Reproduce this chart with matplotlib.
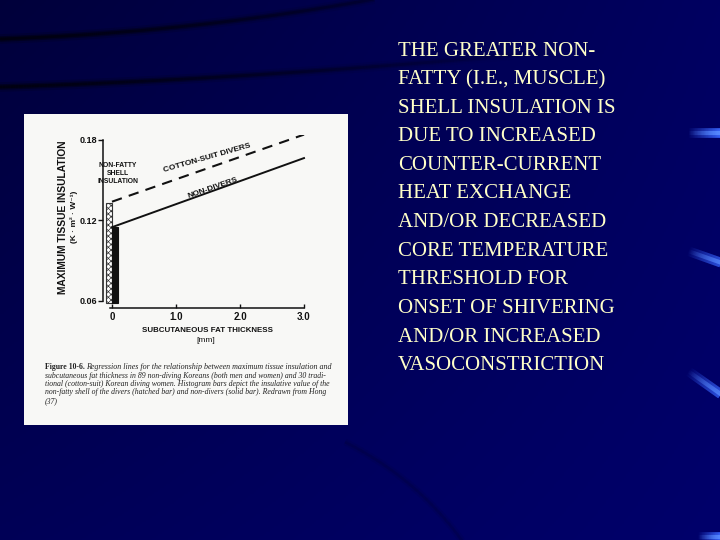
import numpy as np
import matplotlib
matplotlib.use("Agg")
import matplotlib.pyplot as plt
from matplotlib.collections import LineCollection
from matplotlib.patches import Rectangle

# ---------------- data ----------------
fat_thickness = [0.0, 3.0]                      # mm
cotton_suit_divers = [0.134, 0.184]              # K·m²·W⁻¹
non_divers = [0.115, 0.1665]
shell_labels = ["divers (hatched)", "non-divers (solid)"]
shell_insulation = [0.133, 0.115]
y_ticks = [0.06, 0.12, 0.18]
y_tick_labels = ["0.06", "0.12", "0.18"]
x_ticks = [0, 1, 2, 3]
x_tick_labels = ["0", "1.0", "2.0", "3.0"]

slide_lines = [
    "THE GREATER NON-",
    "FATTY (I.E., MUSCLE)",
    "SHELL INSULATION IS",
    "DUE TO INCREASED",
    "COUNTER-CURRENT",
    "HEAT EXCHANGE",
    "AND/OR DECREASED",
    "CORE TEMPERATURE",
    "THRESHOLD FOR",
    "ONSET OF SHIVERING",
    "AND/OR INCREASED",
    "VASOCONSTRICTION",
]
caption_lines = [
    "Regression lines for the relationship between maximum tissue insulation and",
    "subcutaneous fat thickness in 89 non-diving Koreans (both men and women) and 30 tradi-",
    "tional (cotton-suit) Korean diving women. Histogram bars depict the insulative value of the",
    "non-fatty shell of the divers (hatched bar) and non-divers (solid bar). Redrawn from Hong",
    "(37)",
]

W, H = 720, 540
fig = plt.figure(figsize=(7.2, 5.4), dpi=100)

# ---------------- slide background ----------------
bg = fig.add_axes([0, 0, 1, 1])
bg.set_xlim(0, W)
bg.set_ylim(H, 0)
bg.axis("off")
gx, gy = np.meshgrid(np.linspace(0, 1, 360), np.linspace(0, 1, 270))
blue = 0.30 + 0.08 * gx + 0.04 * gy - 0.07 * (1 - gx) * (1 - gy)
img = np.dstack([np.zeros_like(blue), np.zeros_like(blue), blue])
bg.imshow(img, extent=(0, W, H, 0), aspect="auto", zorder=0)


def bez(p0, p1, p2, n=200):
    t = np.linspace(0, 1, n)[:, None]
    p0, p1, p2 = map(np.array, (p0, p1, p2))
    return (1 - t) ** 2 * p0 + 2 * (1 - t) * t * p1 + t ** 2 * p2


def faded_curve(pts, color, lw, a0, a1):
    segs = np.stack([pts[:-1], pts[1:]], axis=1)
    alphas = np.linspace(a0, a1, len(segs))
    cols = [(*color, a) for a in alphas]
    bg.add_collection(LineCollection(segs, colors=cols, linewidths=lw, zorder=1,
                                     capstyle="butt"))


for lw, a in [(7, 0.18), (4, 0.45), (2, 0.7)]:
    faded_curve(bez((0, 39), (200, 32), (385, -3)), (0, 0, 0.04), lw, a, a * 0.3)
    faded_curve(bez((0, 87), (260, 79), (570, 50)), (0, 0, 0.04), lw, a, 0.0)
for lw, a in [(5, 0.08), (2, 0.15)]:
    faded_curve(bez((345, 442), (420, 480), (465, 545)), (0, 0, 0.12), lw, a, a)

# light-blue streaks on right edge
for p0, p1 in [((688, 133), (722, 133)), ((688, 251), (722, 263)),
               ((688, 371), (722, 395)), ((698, 537), (722, 537))]:
    pts = np.linspace(p0, p1, 60)
    faded_curve(pts, (0.22, 0.40, 1.0), 7, 0.0, 1.0)
    faded_curve(pts, (0.35, 0.55, 1.0), 3, 0.0, 1.0)

# white scanned page
bg.add_patch(Rectangle((24, 114), 324, 311, facecolor="#f8f8f6", edgecolor="none", zorder=2))

# slide text
for i, line in enumerate(slide_lines):
    bg.text(398, 51 + i * 28.6, line, va="center", ha="left", color="#ffffc8",
            fontfamily="Liberation Serif", fontsize=15, zorder=3)

# caption
cap_font = dict(fontfamily="Liberation Serif", fontsize=5.6, color="#222", zorder=3,
                va="center", ha="left")
bg.text(45, 367, "Figure 10-6.", fontweight="bold", **cap_font)
for i, line in enumerate(caption_lines):
    if i == 0:
        bg.text(86, 367, line, style="italic", **{**cap_font, "fontsize": 5.75})
    else:
        bg.text(45, 367 + i * 8.5, line, style="italic", **cap_font)

# axis labels (as on the scan)
lab = dict(fontweight="bold", color="#111", zorder=3, ha="center", va="center")
bg.text(63, 217, "MAXIMUM TISSUE INSULATION", rotation=90, fontsize=7.4,
        family=["Liberation Sans", "DejaVu Sans"], **lab)
bg.text(74.5, 217, "(K · m² · W⁻¹)", rotation=90, fontsize=6.0,
        family=["Liberation Sans", "DejaVu Sans"], **lab)
bg.text(208, 330, "SUBCUTANEOUS FAT THICKNESS", fontsize=5.7,
        family=["Liberation Sans", "DejaVu Sans"], **lab)
bg.text(206, 341, "[mm]", fontsize=6, fontfamily="Liberation Sans", color="#111",
        ha="center", va="center", zorder=3)

# ---------------- chart ----------------
px0, pxu = 112, 64.0      # pixel of x=0, pixels per mm
py06, pyu = 301, 1342.0   # pixel of y=0.06, pixels per unit
L, R, T, B = 100, 310, 135, 312
ax = fig.add_axes([L / W, 1 - B / H, (R - L) / W, (B - T) / H])
ax.patch.set_alpha(0)
ax.set_zorder(5)
ax.set_xlim((L - px0) / pxu, (R - px0) / pxu)
ax.set_ylim(0.06 - (B - py06) / pyu, 0.06 + (py06 - T) / pyu)

plt.rcParams["hatch.linewidth"] = 0.5
base = 0.0585
ax.bar([-0.05], [shell_insulation[0] - base], bottom=base, width=0.09,
       facecolor="white", edgecolor="#333", hatch="xxxxxx", linewidth=0.8)
ax.bar([0.045], [shell_insulation[1] - base], bottom=base, width=0.09,
       facecolor="#111", edgecolor="#111", linewidth=0.8)

ax.plot(fat_thickness, cotton_suit_divers, color="#111", lw=1.5, ls=(0, (5, 3.5)))
ax.plot(fat_thickness, non_divers, color="#111", lw=1.4)

for s in ["top", "right"]:
    ax.spines[s].set_visible(False)
ax.spines["left"].set_position(("data", -0.14))
ax.spines["left"].set_bounds(0.06, 0.18)
ax.spines["bottom"].set_position(("data", 0.0548))
ax.spines["bottom"].set_bounds(-0.03, 3.0)
for s in ["left", "bottom"]:
    ax.spines[s].set_linewidth(1.1)
    ax.spines[s].set_color("#111")

ax.set_yticks(y_ticks)
ax.set_yticklabels(y_tick_labels)
ax.set_xticks(x_ticks)
ax.set_xticklabels(x_tick_labels)
ax.tick_params(axis="y", direction="out", length=3.5, width=1, pad=1, labelsize=6.5,
               colors="#111")
ax.tick_params(axis="x", direction="in", length=3, width=1, pad=3, labelsize=7,
               colors="#111")
for t in ax.get_xticklabels() + ax.get_yticklabels():
    t.set_fontfamily("Liberation Sans")
    t.set_fontweight("bold")

ann = dict(fontfamily="Liberation Sans", fontweight="bold", color="#111",
           ha="center", va="center")
ax.text(0.09, 0.155, "NON-FATTY\nSHELL\nINSULATION", fontsize=4.9, linespacing=1.15, **ann)
ax.text(1.48, 0.1668, "COTTON-SUIT DIVERS", fontsize=6.0, rotation=16, **ann)
ax.text(1.58, 0.1445, "NON-DIVERS", fontsize=6.0, rotation=19, **ann)

fig.savefig("out.png", dpi=100)
